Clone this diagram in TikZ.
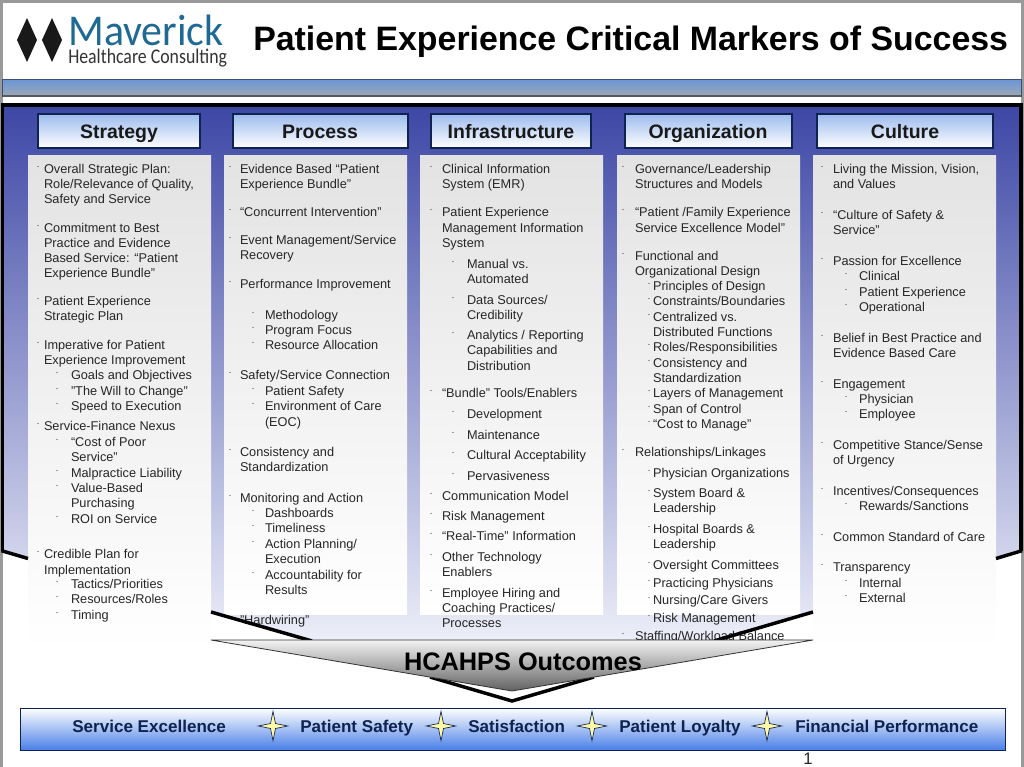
\documentclass[tikz,border=0pt]{standalone}
\usepackage{fontspec}
\usepackage{graphicx}
\setmainfont{Liberation Sans}
\newfontfamily\logofont{Carlito}
\usetikzlibrary{shapes.geometric}
\definecolor{txt}{HTML}{262626}
\definecolor{navy}{HTML}{0F2350}
\definecolor{panelblue}{HTML}{3D47A5}
\definecolor{panelend}{HTML}{ECEEF8}
\definecolor{logoblue}{HTML}{1F6A94}
\definecolor{hdrtop}{HTML}{9DBBEE}
\definecolor{bandtop}{HTML}{6A96D6}
\definecolor{bandend}{HTML}{9CA8B6}
\definecolor{barend}{HTML}{4A80E8}
\newcounter{ln}
\tikzset{
  line/.style={anchor=base west,inner sep=0pt,outer sep=0pt,text=txt,font=\fontsize{9.55}{11}\selectfont},
  hdr/.style={draw=navy,line width=.9pt,top color=hdrtop,bottom color=white},
  hdrtext/.style={anchor=base,font=\fontsize{14.6}{16}\selectfont\bfseries,text=black!90,inner sep=0pt},
  column/.style={top color=black!11,bottom color=white},
  thick edge/.style={line width=2.6pt,black,line cap=butt},
  bartext/.style={font=\fontsize{12.8}{14}\selectfont\bfseries,text=navy,anchor=base west,inner sep=0pt},
  starry/.style={star,star points=4,star point ratio=4.2,minimum size=22pt,inner sep=0pt,draw=navy,line width=.5pt,fill=yellow!35!white},
}
\newcommand{\LA}[2]{\stepcounter{ln}\fill[black!70] (\mb,#1-2.5) circle (.6);\node[line] (t\arabic{ln}) at (\mx,#1+4.5) {#2};}
\newcommand{\LB}[2]{\stepcounter{ln}\node[line] (t\arabic{ln}) at (\mx,#1+4.5) {#2};}
\newcommand{\LC}[2]{\stepcounter{ln}\fill[black!70] (\sb,#1-2.5) circle (.6);\node[line] (t\arabic{ln}) at (\sx,#1+4.5) {#2};}
\newcommand{\LD}[2]{\stepcounter{ln}\node[line] (t\arabic{ln}) at (\sx,#1+4.5) {#2};}
\begin{document}
\begin{tikzpicture}[x=0.75pt,y=-0.75pt]
\useasboundingbox (0,0) rectangle (1024,767);
\fill[white] (0,0) rectangle (1024,767);
% page edges
\fill[black!40] (0,0) rectangle (1024,3);
\fill[black!40] (0,0) rectangle (2.5,767);
\fill[black!40] (1021,0) rectangle (1024,767);
% logo
\fill[black!90] (27,18) -- (37,40) -- (27,62) -- (17,40) -- cycle;
\fill[black!90] (52,18) -- (62,40) -- (52,62) -- (42,40) -- cycle;
\node[anchor=base west,inner sep=0pt,text=logoblue] (maverick) at (68,46) {\scalebox{.95}[1]{\logofont\fontsize{33}{35}\selectfont Maverick}};
\node[anchor=base west,inner sep=0pt,text=black!80] (hc) at (68,64) {\scalebox{.85}[1]{\logofont\fontsize{15.7}{17}\selectfont Healthcare Consulting}};
\node[anchor=base west,inner sep=0pt,text=black] (title) at (253,50.5) {\fontsize{25.4}{28}\selectfont\bfseries Patient Experience Critical Markers of Success};
% band
\draw[draw=navy!80,line width=.6pt,top color=bandtop,bottom color=bandend] (2.5,79.5) rectangle (1021,96);
\draw[black!65,line width=1.2pt] (2.5,96) -- (1021,96);
% chevron panel
\fill[top color=panelblue,bottom color=panelend] (2.5,105) -- (1021,105) -- (1021,551) -- (813,612) -- (714,640) -- (312,640) -- (210,612) -- (2.5,551) -- cycle;
\draw[thick edge,line width=2.6pt] (2.5,551) -- (2.5,105) -- (1021,105) -- (1021,551);
% column panels
\fill[column] (28,155) rectangle (211,650);
\fill[column] (224,155) rectangle (407,614);
\fill[column] (420,155) rectangle (603,614);
\fill[column] (617,155) rectangle (800,614);
\fill[column] (813,155) rectangle (996,650);
% headers
\draw[hdr] (38,114) rectangle (200,148); \node[hdrtext] (h1) at (119,138.5) {Strategy};
\draw[hdr] (233,114) rectangle (408,148); \node[hdrtext] (h2) at (320,138.5) {Process};
\draw[hdr] (431,114) rectangle (591,148); \node[hdrtext] (h3) at (511,138.5) {Infrastructure};
\draw[hdr] (625,114) rectangle (792,148); \node[hdrtext] (h4) at (708,138.5) {Organization};
\draw[hdr] (817,114) rectangle (993,148); \node[hdrtext] (h5) at (905,138.5) {Culture};
% Strategy
\def\mb{38}\def\mx{44}\def\sb{57}\def\sx{71}
\LA{169}{Overall Strategic Plan:}\LB{184}{Role/Relevance of Quality,}\LB{199}{Safety and Service}
\LA{228}{Commitment to Best}\LB{243}{Practice and Evidence}\LB{258}{Based Service: “Patient}\LB{273}{Experience Bundle”}
\LA{301}{Patient Experience}\LB{316}{Strategic Plan}
\LA{345}{Imperative for Patient}\LB{360}{Experience Improvement}
\LC{375}{Goals and Objectives}\LC{391}{"The Will to Change"}\LC{406}{Speed to Execution}
\LA{426}{Service-Finance Nexus}
\LC{442}{“Cost of Poor}\LD{457}{Service”}\LC{473}{Malpractice Liability}\LC{488}{Value-Based}\LD{503}{Purchasing}\LC{519}{ROI on Service}
\LA{554}{Credible Plan for}\LB{570}{Implementation}
\LC{584}{Tactics/Priorities}\LC{599}{Resources/Roles}\LC{615}{Timing}
% Process
\def\mb{230}\def\mx{240}\def\sb{253}\def\sx{265}
\LA{169}{Evidence Based “Patient}\LB{184}{Experience Bundle”}
\LA{212}{“Concurrent Intervention”}
\LA{240}{Event Management/Service}\LB{255}{Recovery}
\LA{284}{Performance Improvement}
\LC{315}{Methodology}\LC{330}{Program Focus}\LC{345}{Resource Allocation}
\LA{375}{Safety/Service Connection}
\LC{391}{Patient Safety}\LC{406}{Environment of Care}\LD{422}{(EOC)}
\LA{452}{Consistency and}\LB{467}{Standardization}
\LA{498}{Monitoring and Action}
\LC{513}{Dashboards}\LC{528}{Timeliness}\LC{544}{Action Planning/}\LD{559}{Execution}\LC{575}{Accountability for}\LD{590}{Results}
\LB{620}{"Hardwiring"}
% Infrastructure
\def\mb{431}\def\mx{442}\def\sb{453}\def\sx{467}
\LA{169}{Clinical Information}\LB{184}{System (EMR)}
\LA{212}{Patient Experience}\LB{228}{Management Information}\LB{243}{System}
\LC{264}{Manual vs.}\LD{279}{Automated}
\LC{300}{Data Sources/}\LD{315}{Credibility}
\LC{335}{Analytics / Reporting}\LD{350}{Capabilities and}\LD{366}{Distribution}
\LA{393}{“Bundle” Tools/Enablers}
\LC{414}{Development}\LC{435}{Maintenance}\LC{455}{Cultural Acceptability}\LC{476}{Pervasiveness}
\LA{496}{Communication Model}\LA{516}{Risk Management}\LA{536}{“Real-Time” Information}
\LA{557}{Other Technology}\LB{572}{Enablers}
\LA{593}{Employee Hiring and}\LB{608}{Coaching Practices/}\LB{623}{Processes}
% Organization
\def\mb{623}\def\mx{635}\def\sb{649}\def\sx{653}
\LA{169}{Governance/Leadership}\LB{184}{Structures and Models}
\LA{212}{“Patient /Family Experience}\LB{228}{Service Excellence Model”}
\LA{256}{Functional and}\LB{271}{Organizational Design}
\LC{286}{Principles of Design}\LC{301}{Constraints/Boundaries}\LC{317}{Centralized vs.}\LD{332}{Distributed Functions}
\LC{347}{Roles/Responsibilities}\LC{363}{Consistency and}\LD{378}{Standardization}
\LC{393}{Layers of Management}\LC{409}{Span of Control}\LC{424}{“Cost to Manage”}
\LA{452}{Relationships/Linkages}
\LC{473}{Physician Organizations}\LC{493}{System Board \&}\LD{508}{Leadership}
\LC{529}{Hospital Boards \&}\LD{544}{Leadership}
\LC{565}{Oversight Committees}\LC{583}{Practicing Physicians}\LC{600}{Nursing/Care Givers}\LC{618}{Risk Management}
\LA{636}{Staffing/Workload Balance}
% Culture
\def\mb{822}\def\mx{833}\def\sb{846}\def\sx{859}
\LA{169}{Living the Mission, Vision,}\LB{184}{and Values}
\LA{215}{“Culture of Safety \&}\LB{230}{Service”}
\LA{261}{Passion for Excellence}
\LC{276}{Clinical}\LC{292}{Patient Experience}\LC{307}{Operational}
\LA{338}{Belief in Best Practice and}\LB{353}{Evidence Based Care}
\LA{384}{Engagement}\LC{399}{Physician}\LC{414}{Employee}
\LA{445}{Competitive Stance/Sense}\LB{460}{of Urgency}
\LA{491}{Incentives/Consequences}\LC{506}{Rewards/Sanctions}
\LA{537}{Common Standard of Care}
\LA{567}{Transparency}\LC{583}{Internal}\LC{598}{External}
% chevron edges
\draw[thick edge] (1.5,550.7) -- (28,558.5);
\draw[thick edge] (1022,550.7) -- (996,558.5);
\draw[thick edge] (211,612) -- (312,641);
\draw[thick edge] (813,612) -- (714,641);
% HCAHPS arrow
\fill[white] (211,640.5) rectangle (813,700);
\draw[thick edge] (430,677) -- (512,701) -- (594,677);
\draw[black!80,line width=.6pt,top color=black!5,bottom color=black!62] (211,640) -- (813,640) -- (512,691) -- cycle;
\node[anchor=base,inner sep=0pt,text=black] (hcahps) at (523,670) {\fontsize{19}{21}\selectfont\bfseries HCAHPS Outcomes};
% bottom bar
\draw[draw=navy,line width=.7pt,top color=white,bottom color=barend] (20,708) rectangle (1005,750);
\node[bartext] (b1) at (72,732) {Service Excellence};
\node[bartext] (b2) at (300,732) {Patient Safety};
\node[bartext] (b3) at (468,732) {Satisfaction};
\node[bartext] (b4) at (619,732) {Patient Loyalty};
\node[bartext] (b5) at (795,732) {Financial Performance};
\node[starry] (s1) at (273,726) {};
\node[starry] (s2) at (441,726) {};
\node[starry] (s3) at (592,726) {};
\node[starry] (s4) at (767,726) {};
\node[anchor=base,inner sep=0pt,text=black!85] (pg) at (808,764) {\fontsize{12.5}{14}\selectfont 1};
\end{tikzpicture}
\end{document}
